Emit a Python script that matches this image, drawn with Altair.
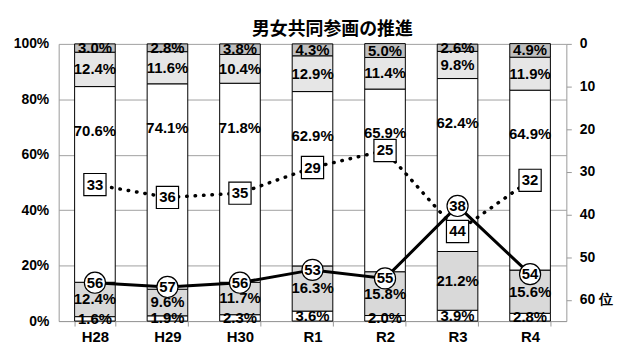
import altair as alt
import pandas as pd

years = ["H28", "H29", "H30", "R1", "R2", "R3", "R4"]
seg1 = [1.6, 1.9, 2.3, 3.6, 2.0, 3.9, 2.8]
seg2 = [12.4, 9.6, 11.7, 16.3, 15.8, 21.2, 15.6]
seg3 = [70.6, 74.1, 71.8, 62.9, 65.9, 62.4, 64.9]
seg4 = [12.4, 11.6, 10.4, 12.9, 11.4, 9.8, 11.9]
seg5 = [3.0, 2.8, 3.8, 4.3, 5.0, 2.6, 4.9]
rank_square = [33, 36, 35, 29, 25, 44, 32]
rank_circle = [56, 57, 56, 53, 55, 38, 54]

seg_names = ["s1", "s2", "s3", "s4", "s5"]
seg_colors = ["#ffffff", "#d9d9d9", "#ffffff", "#e6e6e6", "#bfbfbf"]

rows = []
for i, y in enumerate(years):
    start = 0.0
    for name, vals in zip(seg_names, [seg1, seg2, seg3, seg4, seg5]):
        v = vals[i]
        end = start + v
        mid = (start + end) / 2
        if name == "s3":
            mid = end - 16
        rows.append({"year": y, "seg": name, "start": start, "end": end,
                     "mid": mid, "label": f"{v:.1f}%"})
        start = end
bars_df = pd.DataFrame(rows)
rank_df = pd.DataFrame({"year": years, "sq": rank_square, "ci": rank_circle})

FONT = "Liberation Sans"
FS = 15

x_enc = alt.X("year:N", sort=years,
              scale=alt.Scale(paddingInner=0.44, paddingOuter=0.22),
              axis=alt.Axis(title=None, labelAngle=0, tickBand="extent",
                            tickSize=5, tickColor="#999999", domainColor="#999999",
                            labelFontSize=FS, labelFontWeight="bold", labelFont=FONT,
                            labelColor="black", labelPadding=4, grid=False))

left_axis = alt.Axis(title=None, values=[0, 20, 40, 60, 80, 100],
                     labelExpr="datum.value + '%'", ticks=False, labelPadding=10,
                     labelFontSize=FS - 1, labelFontWeight="bold", labelFont=FONT,
                     labelColor="black", domainColor="#999999",
                     grid=True, gridColor="#a0a0a0", gridWidth=1)
y_pct = alt.Scale(domain=[0, 100], nice=False)

bars = alt.Chart(bars_df).mark_bar(stroke="black", strokeWidth=1, opacity=1).encode(
    x=x_enc,
    y=alt.Y("start:Q", scale=y_pct, axis=left_axis),
    y2="end:Q",
    fill=alt.Fill("seg:N", scale=alt.Scale(domain=seg_names, range=seg_colors), legend=None),
)
bar_labels = alt.Chart(bars_df).mark_text(fontSize=FS, fontWeight="bold", font=FONT,
                                         color="black").encode(
    x=alt.X("year:N", sort=years),
    y=alt.Y("mid:Q", scale=y_pct, axis=left_axis),
    text="label:N",
)
bar_layer = alt.layer(bars, bar_labels)

right_axis = alt.Axis(title=None, orient="right", values=[0, 10, 20, 30, 40, 50, 60],
                      labelExpr="datum.value == 60 ? '60 位' : datum.label",
                      tickSize=5, tickColor="#999999", domainColor="#999999",
                      labelPadding=8, labelFontSize=FS - 1, labelFontWeight="bold",
                      labelFont=FONT, labelColor="black", grid=False)
y_rank = alt.Scale(domain=[0, 65], reverse=True, nice=False, zero=False)

base = alt.Chart(rank_df).encode(x=alt.X("year:N", sort=years))
dotted = base.mark_line(color="black", strokeWidth=3.5, strokeDash=[0.5, 8],
                        strokeCap="round").encode(
    y=alt.Y("sq:Q", scale=y_rank, axis=right_axis))
solid = base.mark_line(color="black", strokeWidth=3).encode(
    y=alt.Y("ci:Q", scale=y_rank, axis=right_axis))
squares = base.mark_square(size=500, fill="white", stroke="black", strokeWidth=1.2,
                           opacity=1, filled=True).encode(
    y=alt.Y("sq:Q", scale=y_rank, axis=right_axis))
circles = base.mark_circle(size=450, fill="white", stroke="black", strokeWidth=1.2,
                           opacity=1).encode(
    y=alt.Y("ci:Q", scale=y_rank, axis=right_axis))
sq_text = base.mark_text(fontSize=FS, fontWeight="bold", font=FONT, color="black").encode(
    y=alt.Y("sq:Q", scale=y_rank, axis=right_axis), text="sq:Q")
ci_text = base.mark_text(fontSize=FS, fontWeight="bold", font=FONT, color="black").encode(
    y=alt.Y("ci:Q", scale=y_rank, axis=right_axis), text="ci:Q")
rank_layer = alt.layer(dotted, solid, squares, circles, sq_text, ci_text)

chart = alt.layer(bar_layer, rank_layer).resolve_scale(y="independent").properties(
    width=511, height=279,
    title=alt.TitleParams("男女共同参画の推進", fontSize=18, fontWeight="bold",
                          font="Noto Sans CJK JP", color="black", offset=4, dx=20, dy=6),
    padding={"left": 5, "top": 12, "right": 5, "bottom": 5},
).configure_view(stroke=None)

chart.save("out.html", embed_options={"renderer": "svg", "actions": False})
